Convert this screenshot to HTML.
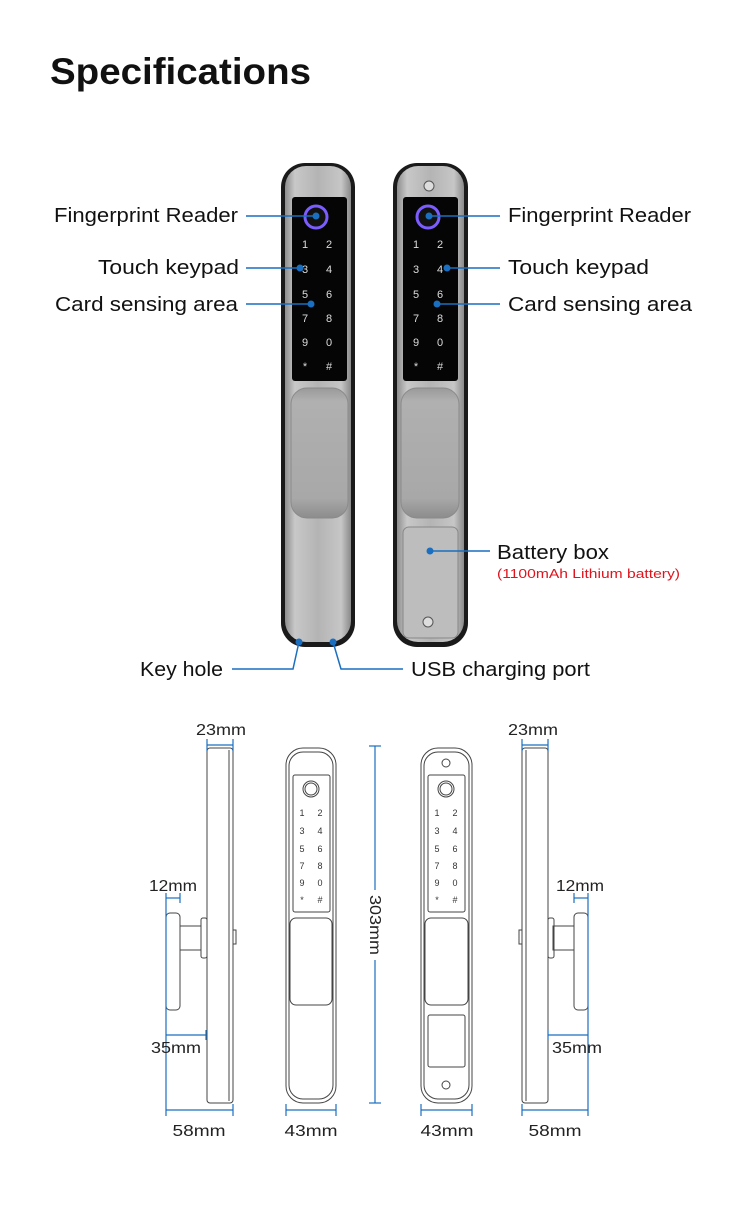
<!DOCTYPE html>
<html><head><meta charset="utf-8"><style>
html,body{margin:0;padding:0;background:#fff}
svg{display:block}
text{font-family:"Liberation Sans",sans-serif}
</style></head><body>
<svg width="750" height="1220" viewBox="0 0 750 1220" xmlns="http://www.w3.org/2000/svg">
<defs>
<linearGradient id="met" x1="0" x2="1" y1="0" y2="0">
<stop offset="0" stop-color="#8e8e8e"/><stop offset="0.15" stop-color="#c8c8c8"/><stop offset="0.5" stop-color="#b4b4b4"/><stop offset="0.85" stop-color="#c6c6c6"/><stop offset="1" stop-color="#8a8a8a"/>
</linearGradient>
<linearGradient id="hdl" x1="0" x2="0" y1="0" y2="1">
<stop offset="0" stop-color="#9a9a9a"/><stop offset="0.1" stop-color="#b0b0b0"/><stop offset="0.85" stop-color="#a8a8a8"/><stop offset="1" stop-color="#8c8c8c"/>
</linearGradient>
</defs>
<text x="50" y="84" font-size="37" font-weight="bold" fill="#111" textLength="261" lengthAdjust="spacingAndGlyphs">Specifications</text>

<g>
<rect x="281" y="163" width="74" height="484" rx="24" fill="#1a1a1a"/>
<rect x="285" y="166" width="66" height="476" rx="21" fill="url(#met)"/>
<rect x="292" y="197" width="55" height="184" rx="3" fill="#050505"/>
<rect x="291" y="388" width="57" height="130" rx="16" fill="url(#hdl)" stroke="#8a8a8a"/>
<circle cx="316" cy="217" r="11" fill="#111" stroke="#7b5cff" stroke-width="3"/>
<g fill="#ddd" font-size="11" text-anchor="middle">
<text x="305" y="248">1</text><text x="329" y="248">2</text>
<text x="305" y="273">3</text><text x="329" y="273">4</text>
<text x="305" y="298">5</text><text x="329" y="298">6</text>
<text x="305" y="322">7</text><text x="329" y="322">8</text>
<text x="305" y="346">9</text><text x="329" y="346">0</text>
<text x="305" y="370">*</text><text x="329" y="370">#</text>
</g>
</g>
<g>
<rect x="393" y="163" width="75" height="484" rx="24" fill="#1a1a1a"/>
<rect x="397" y="166" width="67" height="476" rx="21" fill="url(#met)"/>
<circle cx="429" cy="186" r="5" fill="#ddd" stroke="#555"/>
<rect x="403" y="197" width="55" height="184" rx="3" fill="#050505"/>
<rect x="401" y="388" width="58" height="130" rx="16" fill="url(#hdl)" stroke="#8a8a8a"/>
<rect x="403" y="527" width="55" height="111" rx="6" fill="#bdbdbd" stroke="#888"/>
<circle cx="428" cy="622" r="5" fill="#ddd" stroke="#555"/>
<circle cx="428" cy="217" r="11" fill="#111" stroke="#7b5cff" stroke-width="3"/>
<g fill="#ddd" font-size="11" text-anchor="middle">
<text x="416" y="248">1</text><text x="440" y="248">2</text>
<text x="416" y="273">3</text><text x="440" y="273">4</text>
<text x="416" y="298">5</text><text x="440" y="298">6</text>
<text x="416" y="322">7</text><text x="440" y="322">8</text>
<text x="416" y="346">9</text><text x="440" y="346">0</text>
<text x="416" y="370">*</text><text x="440" y="370">#</text>
</g>
</g>

<g stroke="#1a6fc0" stroke-width="1.5" fill="none">
<line x1="246" y1="216" x2="316" y2="216"/>
<line x1="246" y1="268" x2="300" y2="268"/>
<line x1="246" y1="304" x2="311" y2="304"/>
<line x1="429" y1="216" x2="500" y2="216"/>
<line x1="447" y1="268" x2="500" y2="268"/>
<line x1="437" y1="304" x2="500" y2="304"/>
<line x1="430" y1="551" x2="490" y2="551"/>
<polyline points="232,669 293,669 299,642"/>
<polyline points="333,642 341,669 403,669"/>
</g>
<g fill="#1a6fc0">
<circle cx="316" cy="216" r="3.5"/><circle cx="300" cy="268" r="3.5"/><circle cx="311" cy="304" r="3.5"/>
<circle cx="429" cy="216" r="3.5"/><circle cx="447" cy="268" r="3.5"/><circle cx="437" cy="304" r="3.5"/>
<circle cx="430" cy="551" r="3.5"/><circle cx="299" cy="642" r="3.5"/><circle cx="333" cy="642" r="3.5"/>
</g>
<g font-size="20" fill="#111">
<text x="54" y="222" textLength="184" lengthAdjust="spacingAndGlyphs">Fingerprint Reader</text>
<text x="98" y="274" textLength="141" lengthAdjust="spacingAndGlyphs">Touch keypad</text>
<text x="55" y="311" textLength="183" lengthAdjust="spacingAndGlyphs">Card sensing area</text>
<text x="508" y="222" textLength="183" lengthAdjust="spacingAndGlyphs">Fingerprint Reader</text>
<text x="508" y="274" textLength="141" lengthAdjust="spacingAndGlyphs">Touch keypad</text>
<text x="508" y="311" textLength="184" lengthAdjust="spacingAndGlyphs">Card sensing area</text>
<text x="497" y="559" textLength="112" lengthAdjust="spacingAndGlyphs">Battery box</text>
<text x="140" y="676" textLength="83" lengthAdjust="spacingAndGlyphs">Key hole</text>
<text x="411" y="676" textLength="179" lengthAdjust="spacingAndGlyphs">USB charging port</text>
</g>
<text x="497" y="578" font-size="13" fill="#e0141e" textLength="183" lengthAdjust="spacingAndGlyphs">(1100mAh Lithium battery)</text>

<g fill="none" stroke="#444" stroke-width="1">
<rect x="207" y="748" width="26" height="355" rx="3"/>
<line x1="229" y1="750" x2="229" y2="1101"/>
<rect x="233" y="930" width="3" height="14"/>
<rect x="166" y="913" width="14" height="97" rx="4"/>
<rect x="180" y="926" width="21" height="24"/>
<rect x="201" y="918" width="6" height="40" rx="2"/>
<rect x="286" y="748" width="50" height="355" rx="17"/>
<rect x="289" y="752" width="44" height="347" rx="14"/>
<rect x="293" y="775" width="37" height="137" rx="2"/>
<circle cx="311" cy="789" r="8"/><circle cx="311" cy="789" r="6"/>
<rect x="290" y="918" width="42" height="87" rx="6"/>
<rect x="421" y="748" width="51" height="355" rx="17"/>
<rect x="424" y="752" width="45" height="347" rx="14"/>
<circle cx="446" cy="763" r="4"/>
<rect x="428" y="775" width="37" height="137" rx="2"/>
<circle cx="446" cy="789" r="8"/><circle cx="446" cy="789" r="6"/>
<rect x="425" y="918" width="43" height="87" rx="6"/>
<rect x="428" y="1015" width="37" height="52" rx="2"/>
<circle cx="446" cy="1085" r="4"/>
<rect x="522" y="748" width="26" height="355" rx="3"/>
<line x1="526" y1="750" x2="526" y2="1101"/>
<rect x="519" y="930" width="3" height="14"/>
<rect x="574" y="913" width="14" height="97" rx="4"/>
<rect x="553" y="926" width="21" height="24"/>
<rect x="548" y="918" width="6" height="40" rx="2"/>
</g>
<g font-size="9" fill="#333" text-anchor="middle">
<text x="302" y="816">1</text><text x="320" y="816">2</text>
<text x="302" y="834">3</text><text x="320" y="834">4</text>
<text x="302" y="852">5</text><text x="320" y="852">6</text>
<text x="302" y="869">7</text><text x="320" y="869">8</text>
<text x="302" y="886">9</text><text x="320" y="886">0</text>
<text x="302" y="903">*</text><text x="320" y="903">#</text>
<text x="437" y="816">1</text><text x="455" y="816">2</text>
<text x="437" y="834">3</text><text x="455" y="834">4</text>
<text x="437" y="852">5</text><text x="455" y="852">6</text>
<text x="437" y="869">7</text><text x="455" y="869">8</text>
<text x="437" y="886">9</text><text x="455" y="886">0</text>
<text x="437" y="903">*</text><text x="455" y="903">#</text>
</g>
<g stroke="#1a6fc0" stroke-width="1.2" fill="none">
<line x1="207" y1="745" x2="233" y2="745"/><line x1="207" y1="739" x2="207" y2="751"/><line x1="233" y1="739" x2="233" y2="751"/>
<line x1="166" y1="898" x2="180" y2="898"/><line x1="180" y1="893" x2="180" y2="903"/>
<line x1="166" y1="1035" x2="206" y2="1035"/><line x1="206" y1="1030" x2="206" y2="1040"/>
<line x1="166" y1="1110" x2="233" y2="1110"/><line x1="233" y1="1104" x2="233" y2="1116"/>
<line x1="166" y1="893" x2="166" y2="1116"/>
<line x1="286" y1="1110" x2="336" y2="1110"/><line x1="286" y1="1104" x2="286" y2="1116"/><line x1="336" y1="1104" x2="336" y2="1116"/>
<line x1="375" y1="746" x2="375" y2="1103"/><line x1="369" y1="746" x2="381" y2="746"/><line x1="369" y1="1103" x2="381" y2="1103"/>
<line x1="421" y1="1110" x2="472" y2="1110"/><line x1="421" y1="1104" x2="421" y2="1116"/><line x1="472" y1="1104" x2="472" y2="1116"/>
<line x1="522" y1="745" x2="548" y2="745"/><line x1="522" y1="739" x2="522" y2="751"/><line x1="548" y1="739" x2="548" y2="751"/>
<line x1="574" y1="898" x2="588" y2="898"/><line x1="574" y1="893" x2="574" y2="903"/>
<line x1="548" y1="1035" x2="588" y2="1035"/><line x1="548" y1="1030" x2="548" y2="1040"/>
<line x1="522" y1="1110" x2="588" y2="1110"/><line x1="522" y1="1104" x2="522" y2="1116"/>
<line x1="588" y1="893" x2="588" y2="1116"/>
</g>
<rect x="364" y="890" width="22" height="70" fill="#fff"/>
<g font-size="16" fill="#222" text-anchor="middle">
<text x="221" y="735" textLength="50" lengthAdjust="spacingAndGlyphs">23mm</text>
<text x="173" y="891" textLength="48" lengthAdjust="spacingAndGlyphs">12mm</text>
<text x="176" y="1053" textLength="50" lengthAdjust="spacingAndGlyphs">35mm</text>
<text x="199" y="1136" textLength="53" lengthAdjust="spacingAndGlyphs">58mm</text>
<text x="311" y="1136" textLength="53" lengthAdjust="spacingAndGlyphs">43mm</text>
<text x="447" y="1136" textLength="53" lengthAdjust="spacingAndGlyphs">43mm</text>
<text x="533" y="735" textLength="50" lengthAdjust="spacingAndGlyphs">23mm</text>
<text x="580" y="891" textLength="48" lengthAdjust="spacingAndGlyphs">12mm</text>
<text x="577" y="1053" textLength="50" lengthAdjust="spacingAndGlyphs">35mm</text>
<text x="555" y="1136" textLength="53" lengthAdjust="spacingAndGlyphs">58mm</text>
<text x="0" y="0" transform="translate(370,925) rotate(90)" textLength="60" lengthAdjust="spacingAndGlyphs">303mm</text>
</g>
</svg>
</body></html>
